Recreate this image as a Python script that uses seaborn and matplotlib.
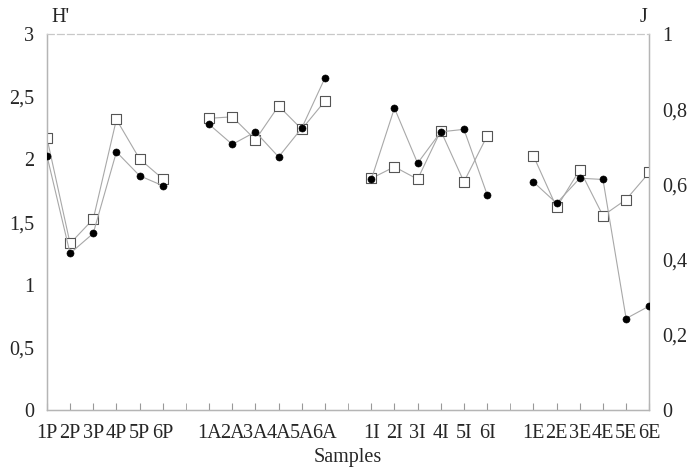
import numpy as np
import pandas as pd
import matplotlib
matplotlib.use("Agg")
import matplotlib.pyplot as plt
import seaborn as sns

# Sample groups and their six stations
groups = ["P", "A", "I", "E"]
stations = ["1", "2", "3", "4", "5", "6"]

# Shannon diversity H' per sample
h_P = [2.03, 1.25, 1.41, 2.06, 1.87, 1.79]
h_A = [2.28, 2.12, 2.22, 2.02, 2.25, 2.65]
h_I = [1.84, 2.41, 1.97, 2.22, 2.24, 1.72]
h_E = [1.82, 1.65, 1.85, 1.84, 0.73, 0.83]

# Pielou evenness J per sample
j_P = [0.724, 0.443, 0.508, 0.773, 0.668, 0.615]
j_A = [0.776, 0.780, 0.719, 0.809, 0.747, 0.822]
j_I = [0.616, 0.647, 0.614, 0.743, 0.607, 0.729]
j_E = [0.676, 0.539, 0.639, 0.517, 0.560, 0.632]

h_ticks = [0, 0.5, 1, 1.5, 2, 2.5, 3]
j_ticks = [0, 0.2, 0.4, 0.6, 0.8, 1]

h_vals = {"P": h_P, "A": h_A, "I": h_I, "E": h_E}
j_vals = {"P": j_P, "A": j_A, "I": j_I, "E": j_E}

# One empty slot separates consecutive groups on the x axis
rows = []
for gi, g in enumerate(groups):
    for si, s in enumerate(stations):
        rows.append({"group": g, "label": s + g, "pos": gi * 7 + si,
                     "H": h_vals[g][si], "J": j_vals[g][si]})
df = pd.DataFrame(rows)

sns.set_style("white")
plt.rcParams["font.family"] = ["Liberation Serif", "DejaVu Serif"]

fs = 14.5
fig, ax = plt.subplots(figsize=(6.9, 4.74), dpi=100)
fig.subplots_adjust(left=0.068, right=0.941, top=0.928, bottom=0.135)
ax2 = ax.twinx()

line_col = "#a8a8a8"

# Evenness J on the right axis: open squares
sns.lineplot(data=df, x="pos", y="J", units="group", estimator=None,
             color=line_col, linewidth=0.8, ax=ax2, legend=False)
sns.scatterplot(data=df, x="pos", y="J", marker="s", s=55,
                facecolor="white", edgecolor="#555555", linewidth=0.8,
                ax=ax2, legend=False, zorder=3)

# Diversity H' on the left axis: filled circles
sns.lineplot(data=df, x="pos", y="H", units="group", estimator=None,
             color=line_col, linewidth=0.8, ax=ax, legend=False)
sns.scatterplot(data=df, x="pos", y="H", marker="o", s=26,
                color="black", edgecolor="black", ax=ax, legend=False,
                zorder=4)

# H' axis drawn above the J axis
ax.set_zorder(ax2.get_zorder() + 1)
ax.patch.set_visible(False)

ax.set_xlim(0, 26)
ax.set_ylim(0, 3)
ax2.set_ylim(0, 1)

ax.set_xticks(np.arange(0, 27), minor=True)
ax.set_xticks(df["pos"])
ax.set_xticklabels(df["label"], fontsize=fs)
ax.tick_params(axis="x", which="both", direction="in", length=5,
               color="#999999", bottom=True, pad=10)

ax.set_yticks(h_ticks)
ax.set_yticklabels([f"{v:g}".replace(".", ",") for v in h_ticks], fontsize=fs)
ax.tick_params(axis="y", length=0, pad=9)
ax2.set_yticks(j_ticks)
ax2.set_yticklabels([f"{v:g}".replace(".", ",") for v in j_ticks], fontsize=fs)
ax2.tick_params(axis="y", length=0, pad=9)

ax.set_xlabel("Samples", fontsize=fs, labelpad=4)
ax.set_ylabel("")
ax2.set_ylabel("")

for a in (ax, ax2):
    for side in ("left", "right", "bottom"):
        a.spines[side].set_color("#b5b5b5")
        a.spines[side].set_linewidth(0.9)
    a.spines["top"].set_color("#c8c8c8")
    a.spines["top"].set_linestyle((0, (6, 3)))
    a.spines["top"].set_linewidth(0.8)

ax.text(0.008, 1.02, "H'", transform=ax.transAxes, fontsize=fs,
        ha="left", va="bottom")
ax.text(0.997, 1.02, "J", transform=ax.transAxes, fontsize=fs,
        ha="right", va="bottom")

fig.savefig("out.png", dpi=100)
